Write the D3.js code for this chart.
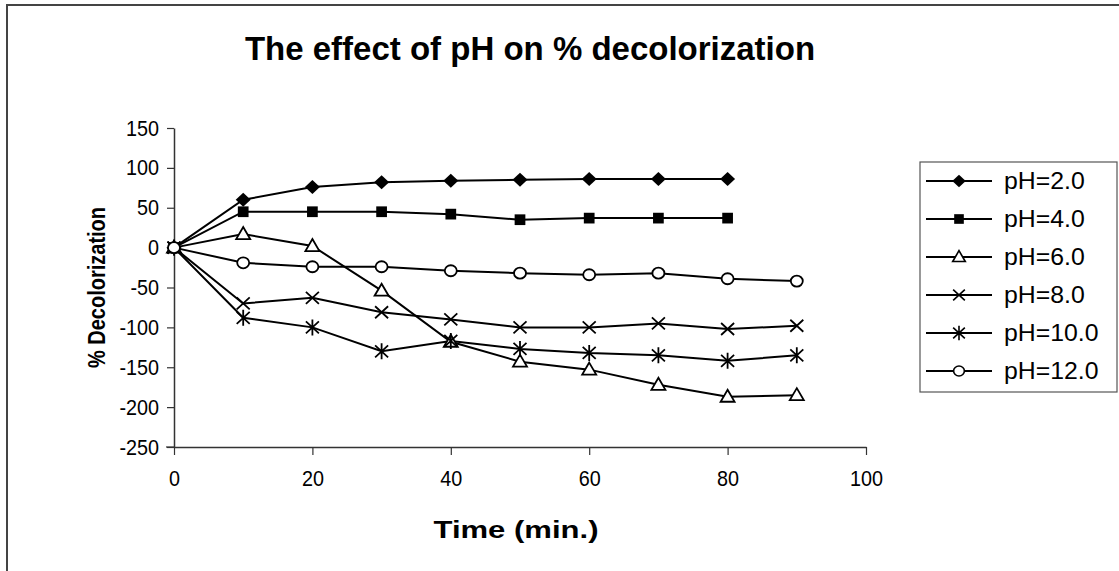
<!DOCTYPE html>
<html>
<head>
<meta charset="utf-8">
<script src="https://cdn.jsdelivr.net/npm/d3@7"></script>
<style>
  html, body { margin: 0; padding: 0; background: #fff; }
  svg { display: block; }
  text { font-family: "Liberation Sans", Arial, sans-serif; fill: #000; }
</style>
</head>
<body>
<svg id="chart" width="1119" height="571"></svg>
<script>
// ---- data ----
const times = [0, 10, 20, 30, 40, 50, 60, 70, 80, 90];
const seriesNames = ["pH=2.0", "pH=4.0", "pH=6.0", "pH=8.0", "pH=10.0", "pH=12.0"];
const ph2  = [0, 60, 76, 82, 84, 85, 86, 86, 86];
const ph4  = [0, 45, 45, 45, 42, 35, 37, 37, 37];
const ph6  = [0, 17, 2, -54, -118, -143, -153, -172, -187, -185];
const ph8  = [0, -70, -63, -81, -90, -100, -100, -95, -102, -98];
const ph10 = [0, -88, -100, -130, -117, -127, -132, -135, -142, -135];
const ph12 = [0, -19, -24, -24, -29, -32, -34, -32, -39, -42];
const markerTypes = ["diamond", "square", "triangle", "x", "star", "circle"];
const xTicks = [0, 20, 40, 60, 80, 100];
const yTicks = [150, 100, 50, 0, -50, -100, -150, -200, -250];
const titleText = "The effect of pH on % decolorization";
const xTitle = "Time (min.)";
const yTitle = "% Decolorization";

const allSeries = [ph2, ph4, ph6, ph8, ph10, ph12];

// ---- layout ----
const svg = d3.select("#chart");
const x = d3.scaleLinear().domain([0, 100]).range([174, 866]);
const y = d3.scaleLinear().domain([-250, 150]).range([447, 128]);
const fmt = d => String(d);
const tickSX = 0.9;

// outer frame
svg.append("path")
  .attr("d", "M7,571 L7,5 L1119,5")
  .attr("fill", "none").attr("stroke", "#444").attr("stroke-width", 2);

// title
svg.append("text")
  .attr("x", 530).attr("y", 60)
  .attr("text-anchor", "middle")
  .attr("font-size", 33).attr("font-weight", "bold")
  .text(titleText);

// axes
const yAxis = d3.axisLeft(y).tickValues(yTicks).tickFormat(fmt).tickSize(7).tickSizeOuter(0).tickPadding(3);
const gy = svg.append("g").attr("transform", `translate(${x(0)},0)`).call(yAxis);
const xAxis = d3.axisBottom(x).tickValues(xTicks).tickFormat(fmt).tickSize(8).tickSizeOuter(0).tickPadding(15);
const gx = svg.append("g").attr("transform", `translate(0,${y(-250)})`).call(xAxis);
[gx, gy].forEach(g => {
  g.select(".domain").attr("stroke", "#333").attr("stroke-width", 1.5);
  g.selectAll(".tick line").attr("stroke", "#333").attr("stroke-width", 1.2);
  g.selectAll(".tick text").attr("font-size", 22).attr("font-family", "Liberation Sans, Arial, sans-serif")
    .attr("fill", "#000").attr("transform", `scale(${tickSX},1)`);
});
// compensate x position of y labels for the horizontal squeeze
gy.selectAll(".tick text").attr("x", -15 / tickSX);
svg.append("line").attr("x1", x(0) - 8).attr("x2", x(0)).attr("y1", y(-250)).attr("y2", y(-250))
  .attr("stroke", "#333").attr("stroke-width", 1.2);

// axis titles
svg.append("text")
  .attr("transform", `translate(516,538) scale(1.35,1)`)
  .attr("text-anchor", "middle")
  .attr("font-size", 23).attr("font-weight", "bold")
  .text(xTitle);
svg.append("text")
  .attr("transform", `translate(105,${(128 + 447) / 2}) rotate(-90) scale(1,1.15)`)
  .attr("text-anchor", "middle")
  .attr("font-size", 20).attr("font-weight", "bold")
  .text(yTitle);

// marker drawing
function drawMarker(g, type) {
  switch (type) {
    case "diamond":
      g.append("path").attr("d", "M0,-7 L7.5,0 L0,7 L-7.5,0 Z").attr("fill", "#000"); break;
    case "square":
      g.append("path").attr("d", d3.symbol(d3.symbolSquare, 115)()).attr("fill", "#000"); break;
    case "triangle":
      g.append("path").attr("d", "M0,-7 L7,5 L-7,5 Z").attr("fill", "#fff").attr("stroke", "#000").attr("stroke-width", 1.8); break;
    case "x":
      g.append("path").attr("d", "M-6.5,-6 L6.5,6 M-6.5,6 L6.5,-6").attr("stroke", "#000").attr("stroke-width", 1.8); break;
    case "star":
      g.append("path").attr("d", "M-6.5,-6 L6.5,6 M-6.5,6 L6.5,-6 M0,-8 L0,8").attr("stroke", "#000").attr("stroke-width", 1.8); break;
    case "circle":
      g.append("ellipse").attr("rx", 6).attr("ry", 5.5).attr("fill", "#fff").attr("stroke", "#000").attr("stroke-width", 1.8); break;
  }
}

const line = d3.line().x((d, i) => x(times[i])).y(d => y(d));

allSeries.forEach((vals) => {
  svg.append("path")
    .datum(vals)
    .attr("d", line)
    .attr("fill", "none").attr("stroke", "#000").attr("stroke-width", 2);
});
allSeries.forEach((vals, si) => {
  vals.forEach((v, i) => {
    const g = svg.append("g").attr("transform", `translate(${x(times[i])},${y(v)})`);
    drawMarker(g, markerTypes[si]);
  });
});

// legend
const lg = svg.append("g");
lg.append("rect").attr("x", 920).attr("y", 162).attr("width", 197).attr("height", 230)
  .attr("fill", "#fff").attr("stroke", "#555").attr("stroke-width", 1.2);
seriesNames.forEach((name, i) => {
  const cy = 181 + i * 38;
  lg.append("line").attr("x1", 926).attr("x2", 992).attr("y1", cy).attr("y2", cy)
    .attr("stroke", "#000").attr("stroke-width", 2);
  const g = lg.append("g").attr("transform", `translate(959,${cy}) scale(0.9)`);
  drawMarker(g, markerTypes[i]);
  lg.append("text").attr("transform", `translate(1004,${cy + 8}) scale(1.08,1)`)
    .attr("font-size", 23).text(name);
});
</script>
</body>
</html>
